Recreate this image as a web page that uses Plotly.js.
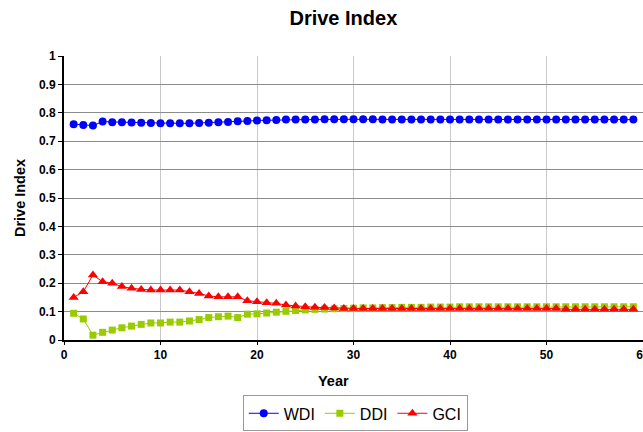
<!DOCTYPE html>
<html>
<head>
<meta charset="utf-8">
<script src="https://cdn.plot.ly/plotly-3.0.1.min.js"></script>
<style>html,body{margin:0;padding:0;background:#fff;}#chart{width:643px;height:432px;}</style>
</head>
<body>
<div id="chart"></div>
<script>
const years = Array.from({length: 59}, (_, i) => i + 1);

const wdi = [0.760,0.757,0.755,0.769,0.767,0.767,0.766,0.765,0.764,0.763,
             0.763,0.763,0.763,0.764,0.765,0.767,0.768,0.770,0.771,0.773,
             0.774,0.775,0.776,0.776,0.776,0.776,0.777,0.777,0.777,0.777,
             0.777,0.777,0.776,0.776,0.776,0.776,0.776,0.776,0.776,0.776,
             0.776,0.776,0.776,0.776,0.776,0.776,0.776,0.776,0.776,0.776,
             0.776,0.776,0.776,0.776,0.776,0.776,0.776,0.776,0.776];

const ddi = [0.094,0.074,0.017,0.027,0.035,0.043,0.049,0.055,0.060,0.060,
             0.063,0.063,0.067,0.072,0.079,0.082,0.084,0.079,0.091,0.092,
             0.095,0.098,0.101,0.104,0.106,0.108,0.109,0.110,0.111,0.112,
             0.113,0.113,0.114,0.114,0.115,0.115,0.115,0.116,0.116,0.116,
             0.117,0.117,0.117,0.117,0.117,0.117,0.117,0.117,0.117,0.117,
             0.117,0.117,0.117,0.117,0.117,0.117,0.117,0.117,0.117];

const gci = [0.150,0.170,0.229,0.205,0.200,0.188,0.182,0.178,0.176,0.176,
             0.176,0.176,0.170,0.164,0.155,0.152,0.152,0.152,0.138,0.135,
             0.131,0.129,0.123,0.120,0.117,0.115,0.114,0.113,0.111,0.111,
             0.111,0.111,0.111,0.111,0.111,0.111,0.111,0.111,0.111,0.111,
             0.111,0.111,0.111,0.111,0.111,0.111,0.111,0.111,0.111,0.111,
             0.111,0.108,0.108,0.108,0.108,0.108,0.108,0.108,0.108];

const seriesNames = ['WDI', 'DDI', 'GCI'];
const yTickVals = [0,0.1,0.2,0.3,0.4,0.5,0.6,0.7,0.8,0.9,1];
const xTickVals = [0,10,20,30,40,50,60];

const FONT = 'Arial, "Liberation Sans", sans-serif';

const traces = [
  {x: years, y: wdi, name: seriesNames[0], mode: 'lines+markers', type: 'scatter',
   line: {color: '#0000FF', width: 1},
   marker: {symbol: 'circle', size: 8, color: '#0000FF'}},
  {x: years, y: ddi, name: seriesNames[1], mode: 'lines+markers', type: 'scatter',
   line: {color: '#99CC00', width: 1},
   marker: {symbol: 'square', size: 7, color: '#99CC00'}},
  {x: years, y: gci, name: seriesNames[2], mode: 'lines+markers', type: 'scatter',
   line: {color: '#FF0000', width: 1},
   marker: {symbol: 'triangle-up', size: 9, color: '#FF0000'}}
];

const layout = {
  width: 643, height: 432,
  margin: {l: 64, r: 0, t: 56, b: 92},
  paper_bgcolor: '#fff', plot_bgcolor: '#fff',
  font: {family: FONT, color: '#000'},
  title: {text: 'Drive Index', font: {family: FONT, size: 20, weight: 'bold', color: '#000'},
          x: 0.534, xanchor: 'center', y: 0.958, yanchor: 'middle', yref: 'container'},
  xaxis: {
    range: [0, 60], tickvals: xTickVals, ticktext: xTickVals.map(String),
    showline: true, linecolor: '#000', linewidth: 2,
    ticks: 'outside', ticklen: 3, tickcolor: '#000', tickwidth: 1,
    ticklabeloverflow: 'allow',
    showgrid: true, gridcolor: '#c8c8c8', gridwidth: 1, zeroline: false,
    tickfont: {family: FONT, size: 12, weight: 'bold', color: '#000'}
  },
  yaxis: {
    range: [0, 1], tickvals: yTickVals, ticktext: yTickVals.map(String),
    showline: true, linecolor: '#000', linewidth: 2,
    ticks: 'outside', ticklen: 4, tickcolor: '#000', tickwidth: 1,
    showgrid: true, gridcolor: '#8c8c8c', gridwidth: 1, zeroline: false,
    tickfont: {family: FONT, size: 12, weight: 'bold', color: '#000'},
    title: {text: 'Drive Index', font: {family: FONT, size: 14.5, weight: 'bold', color: '#000'}, standoff: 10}
  },
  annotations: [
    {text: 'Year', xref: 'paper', yref: 'paper', x: 0.4646, y: -0.144,
     xanchor: 'center', yanchor: 'middle', showarrow: false,
     font: {family: FONT, size: 14.5, weight: 'bold', color: '#000'}}
  ],
  showlegend: true,
  legend: {
    orientation: 'h', x: 0.503, xanchor: 'center', y: -0.195, yanchor: 'top',
    bordercolor: '#999', borderwidth: 1, bgcolor: '#fff',
    font: {family: FONT, size: 16, color: '#000'},
    itemwidth: 30, tracegroupgap: 0
  }
};

Plotly.newPlot('chart', traces, layout, {displayModeBar: false, staticPlot: true});
</script>
</body>
</html>
